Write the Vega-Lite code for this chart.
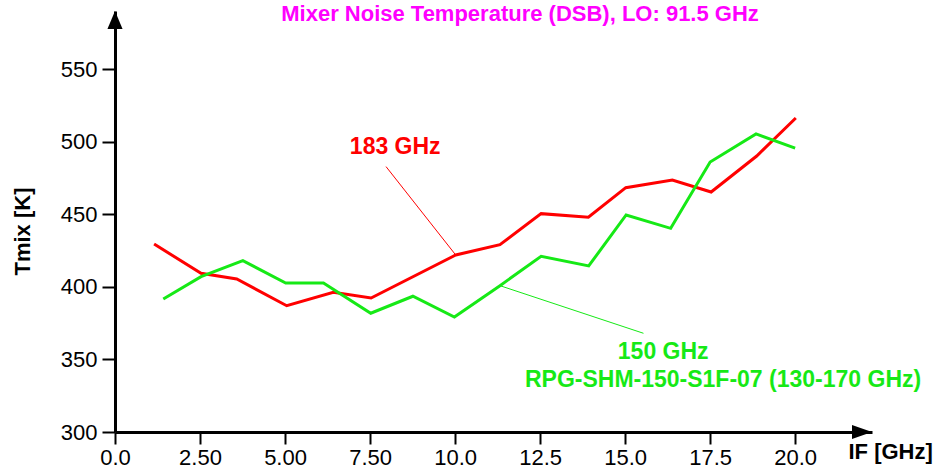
{
  "$schema": "https://vega.github.io/schema/vega-lite/v6.json",
  "width": 757,
  "height": 421,
  "autosize": {"type": "none"},
  "padding": {"left": 115, "top": 11, "right": 66, "bottom": 38},
  "background": "white",
  "config": {"view": {"stroke": null}, "font": "Liberation Sans"},
  "datasets": {
    "series": [
      {"freq": 1.15, "tmix": 429.5, "series": "183 GHz"},
      {"freq": 2.53, "tmix": 409.3, "series": "183 GHz"},
      {"freq": 3.58, "tmix": 405.4, "series": "183 GHz"},
      {"freq": 5.05, "tmix": 387.0, "series": "183 GHz"},
      {"freq": 6.42, "tmix": 396.2, "series": "183 GHz"},
      {"freq": 7.53, "tmix": 392.3, "series": "183 GHz"},
      {"freq": 10.02, "tmix": 421.9, "series": "183 GHz"},
      {"freq": 11.32, "tmix": 429.0, "series": "183 GHz"},
      {"freq": 12.53, "tmix": 450.4, "series": "183 GHz"},
      {"freq": 13.92, "tmix": 447.9, "series": "183 GHz"},
      {"freq": 15.02, "tmix": 468.3, "series": "183 GHz"},
      {"freq": 16.39, "tmix": 473.6, "series": "183 GHz"},
      {"freq": 17.53, "tmix": 465.3, "series": "183 GHz"},
      {"freq": 18.87, "tmix": 490.1, "series": "183 GHz"},
      {"freq": 20.02, "tmix": 516.3, "series": "183 GHz"},
      {"freq": 1.42, "tmix": 391.6, "series": "150 GHz"},
      {"freq": 2.53, "tmix": 407.0, "series": "150 GHz"},
      {"freq": 3.76, "tmix": 418.0, "series": "150 GHz"},
      {"freq": 5.02, "tmix": 402.6, "series": "150 GHz"},
      {"freq": 6.13, "tmix": 402.6, "series": "150 GHz"},
      {"freq": 7.52, "tmix": 381.8, "series": "150 GHz"},
      {"freq": 8.76, "tmix": 393.5, "series": "150 GHz"},
      {"freq": 9.98, "tmix": 379.2, "series": "150 GHz"},
      {"freq": 11.32, "tmix": 400.8, "series": "150 GHz"},
      {"freq": 12.53, "tmix": 421.0, "series": "150 GHz"},
      {"freq": 13.93, "tmix": 414.4, "series": "150 GHz"},
      {"freq": 15.03, "tmix": 449.5, "series": "150 GHz"},
      {"freq": 16.34, "tmix": 440.3, "series": "150 GHz"},
      {"freq": 17.5, "tmix": 486.0, "series": "150 GHz"},
      {"freq": 18.85, "tmix": 505.3, "series": "150 GHz"},
      {"freq": 20.0, "tmix": 495.6, "series": "150 GHz"}
    ],
    "leaders": [
      {"freq": 7.97, "tmix": 482.8, "freq2": 10.02, "tmix2": 421.9, "series": "183 GHz"},
      {"freq": 11.32, "tmix": 400.8, "freq2": 15.54, "tmix2": 368.0, "series": "150 GHz"}
    ],
    "labels": [
      {"freq": 8.24, "tmix": 496.3, "text": "183 GHz", "series": "183 GHz"},
      {"freq": 16.12, "tmix": 355.3, "text": "150 GHz", "series": "150 GHz"},
      {"freq": 17.88, "tmix": 335.8, "text": "RPG-SHM-150-S1F-07 (130-170 GHz)", "series": "150 GHz"}
    ]
  },
  "encoding": {
    "x": {
      "field": "freq",
      "type": "quantitative",
      "scale": {"domain": [0, 22.26], "nice": false, "zero": false},
      "axis": {
        "values": [0, 2.5, 5, 7.5, 10, 12.5, 15, 17.5, 20],
        "labelExpr": "datum.value == 0 ? '0.0' : format(datum.value, '.3r')",
        "grid": false,
        "domainColor": "black",
        "domainWidth": 3,
        "tickColor": "black",
        "tickWidth": 2,
        "tickSize": 12,
        "labelFontSize": 22,
        "labelColor": "black",
        "labelPadding": 3,
        "labelFlush": false,
        "labelOverlap": false,
        "title": "IF [GHz]",
        "titleFontSize": 22,
        "titleFontWeight": "bold",
        "titleColor": "black",
        "titleX": 733,
        "titleY": 19,
        "titleAlign": "left",
        "titleBaseline": "middle"
      }
    },
    "y": {
      "field": "tmix",
      "type": "quantitative",
      "scale": {"domain": [300, 590], "nice": false, "zero": false},
      "axis": {
        "values": [300, 350, 400, 450, 500, 550],
        "format": "d",
        "grid": false,
        "domainColor": "black",
        "domainWidth": 3,
        "tickColor": "black",
        "tickWidth": 2,
        "tickSize": 13,
        "labelFontSize": 22,
        "labelColor": "black",
        "labelPadding": 5,
        "labelFlush": false,
        "labelOverlap": false,
        "title": "Tmix [K]",
        "titleFontSize": 22,
        "titleFontWeight": "bold",
        "titleColor": "black",
        "titleAngle": -90,
        "titleX": -93,
        "titleY": 220,
        "titleAlign": "center",
        "titleBaseline": "middle"
      }
    }
  },
  "layer": [
    {
      "data": {"name": "series"},
      "mark": {"type": "line", "strokeWidth": 3},
      "encoding": {
        "color": {
          "field": "series",
          "type": "nominal",
          "scale": {"domain": ["183 GHz", "150 GHz"], "range": ["#FF0000", "#16E916"]},
          "legend": null
        },
        "order": {"field": "freq", "type": "quantitative"}
      }
    },
    {
      "data": {"name": "leaders"},
      "mark": {"type": "rule", "strokeWidth": 1},
      "encoding": {
        "x2": {"field": "freq2"},
        "y2": {"field": "tmix2"},
        "color": {"field": "series", "type": "nominal", "legend": null}
      }
    },
    {
      "data": {"name": "labels"},
      "mark": {"type": "text", "fontSize": 23, "fontWeight": "bold", "align": "center", "baseline": "middle"},
      "encoding": {
        "text": {"field": "text"},
        "color": {"field": "series", "type": "nominal", "legend": null}
      }
    },
    {
      "data": {"values": [{"freq": 11.91, "tmix": 594.8, "text": "Mixer Noise Temperature (DSB), LO: 91.5 GHz"}]},
      "mark": {"type": "text", "fontSize": 22, "fontWeight": "bold", "align": "center", "baseline": "top", "color": "#FF00FF", "clip": false},
      "encoding": {"text": {"field": "text"}}
    },
    {
      "data": {"values": [{"freq": 22.26, "tmix": 300}]},
      "mark": {"type": "point", "shape": "M0,0L-1,-0.35L-1,0.35Z", "size": 1600, "filled": true, "color": "black", "opacity": 1},
      "encoding": {}
    },
    {
      "data": {"values": [{"freq": 0, "tmix": 590}]},
      "mark": {"type": "point", "shape": "M0,0L-0.42,1L0.42,1Z", "size": 1296, "filled": true, "color": "black", "opacity": 1},
      "encoding": {}
    }
  ]
}
